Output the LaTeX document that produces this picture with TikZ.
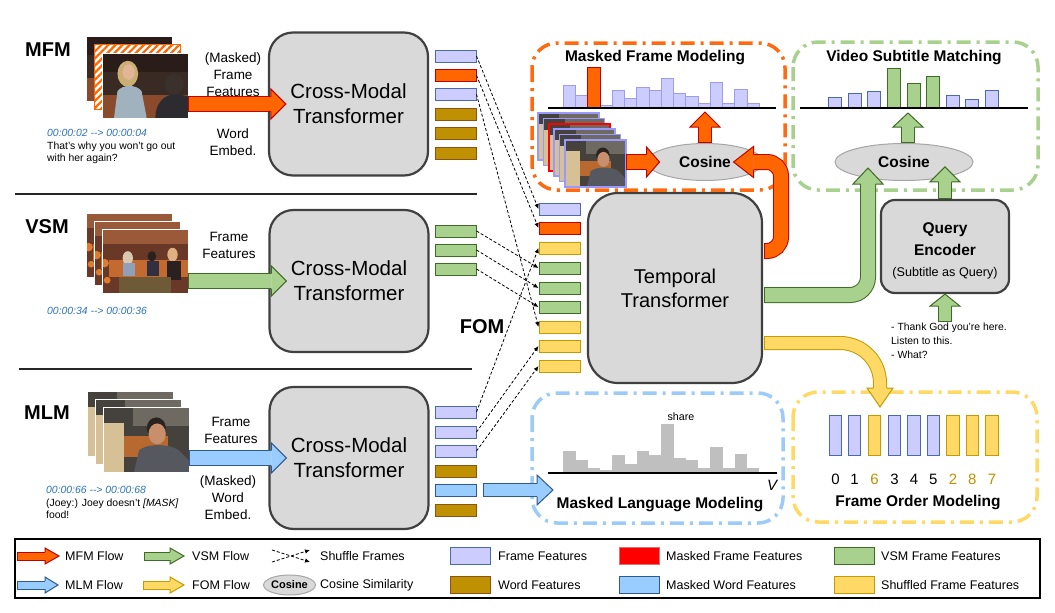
\documentclass[tikz,border=0pt]{standalone}
\usepackage{fontspec}
\setmainfont{Liberation Sans}
\usetikzlibrary{calc,arrows.meta,shapes.geometric,patterns.meta}

\definecolor{boxF}{HTML}{D9D9D9}
\definecolor{boxD}{HTML}{404040}
\definecolor{ellD}{HTML}{A6A6A6}
\definecolor{lavF}{HTML}{CCCCFF}
\definecolor{lavD}{HTML}{4A6AA8}
\definecolor{histD}{HTML}{9C9CF5}
\definecolor{orgF}{HTML}{FF6600}
\definecolor{orgD}{HTML}{C00000}
\definecolor{wrdF}{HTML}{BF9000}
\definecolor{wrdD}{HTML}{8C5218}
\definecolor{grnF}{HTML}{A9D18E}
\definecolor{grnD}{HTML}{3E6B26}
\definecolor{yelF}{HTML}{FFD966}
\definecolor{yelD}{HTML}{C49A00}
\definecolor{bluF}{HTML}{99CCFF}
\definecolor{bluD}{HTML}{2F5A8C}
\definecolor{redF}{HTML}{FF0000}
\definecolor{redD}{HTML}{E07070}
\definecolor{tsblue}{HTML}{2E75B6}
\definecolor{histG}{HTML}{BFBFBF}
\definecolor{numY}{HTML}{BF9000}
\definecolor{frO}{HTML}{FF6A10}
\definecolor{frG}{HTML}{A9D18E}
\definecolor{frB}{HTML}{9CCBFA}
\definecolor{frY}{HTML}{FFD966}
\definecolor{stkD}{HTML}{9999FF}
% photo colours
\definecolor{pA1}{HTML}{3A2A24}
\definecolor{pA2}{HTML}{2A1C18}
\definecolor{pA3}{HTML}{8A4A2C}
\definecolor{pA4}{HTML}{CBAE72}
\definecolor{pA5}{HTML}{E2B596}
\definecolor{pA6}{HTML}{9FB2BE}
\definecolor{pA7}{HTML}{2C2C30}
\definecolor{pA8}{HTML}{3A302C}
\definecolor{pB1}{HTML}{6A3826}
\definecolor{pB2}{HTML}{9A5A3A}
\definecolor{pB3}{HTML}{C26A30}
\definecolor{pB4}{HTML}{D9C7B0}
\definecolor{pB5}{HTML}{8FA0B8}
\definecolor{pB6}{HTML}{303040}
\definecolor{pB7}{HTML}{E0B080}
\definecolor{pB8}{HTML}{2A2020}
\definecolor{pB9}{HTML}{6E5A36}
\definecolor{pBa}{HTML}{E07A30}
\definecolor{pC1}{HTML}{45423E}
\definecolor{pC2}{HTML}{6E6A62}
\definecolor{pC3}{HTML}{B8692F}
\definecolor{pC4}{HTML}{D6C096}
\definecolor{pC5}{HTML}{2A2320}
\definecolor{pC6}{HTML}{C98F6C}
\definecolor{pC7}{HTML}{55585E}

\newcommand\sceneA{%
 \fill[pA1] (0,0) rectangle (100,75);
 \fill[pA2] (0,0) rectangle (100,22);
 \fill[pA3] (0,48) rectangle (100,75);
 \fill[pA4] (30,24) ellipse (12 and 15);
 \fill[pA5] (31,22) ellipse (7 and 9);
 \fill[pA6] (14,75) -- (18,44) .. controls (24,36) and (40,36) .. (46,44) -- (52,75) -- cycle;
 \fill[pA7] (100,75) -- (62,75) .. controls (62,58) and (72,48) .. (86,47) -- (100,50) -- cycle;
 \fill[pA8] (84,36) ellipse (11 and 12);}
\newcommand\sceneB{%
 \fill[pB1] (0,0) rectangle (100,75);
 \fill[pB2] (0,0) rectangle (100,18);
 \fill[pB3] (8,36) rectangle (100,56);
 \fill[pB4] (30,34) ellipse (6 and 8);
 \fill[pB5] (24,40) rectangle (38,55);
 \fill[pB8] (58,32) ellipse (5 and 6);
 \fill[pB6] (52,38) rectangle (66,55);
 \fill[pB7] (82,30) ellipse (6 and 8);
 \fill[pB8] (76,38) rectangle (92,60);
 \fill[pB9] (20,56) rectangle (80,75);
 \fill[pBa] (3,40) circle (5);
 \fill[pBa] (6,60) circle (4);}
\newcommand\sceneC{%
 \fill[pC1] (0,0) rectangle (100,75);
 \fill[pC2] (35,0) rectangle (100,22);
 \fill[pC3] (0,34) rectangle (75,58);
 \fill[pC4] (0,18) rectangle (24,75);
 \fill[pC5] (62,24) ellipse (11 and 12);
 \fill[pC6] (63,31) ellipse (10 and 12);
 \fill[pC7] (36,75) -- (42,50) .. controls (50,42) and (78,42) .. (88,50) -- (100,62) -- (100,75) -- cycle;}

% #1 scene, #2 x, #3 y, #4 w, #5 h, #6 border style
\newcommand\scene[6]{%
 \begin{scope}
  \clip (#2,#3) rectangle ++(#4,#5);
  \begin{scope}[shift={(#2,#3)}, xscale=#4/100, yscale=#5/75]
   \csname scene#1\endcsname
  \end{scope}
 \end{scope}
 \draw[#6] (#2,#3) rectangle ++(#4,#5);}

% block arrow: [opts]{shaft path}{base}{tip}{half shaft}{half head}{colour prefix}
\newcommand\flow[7][]{%
 \draw[#7D, line width={2*#5pt+1pt}, #1] #2;
 \draw[#7F, line width={2*#5pt-1pt}, shorten <=1pt, #1] #2;
 \fill[#7F] ($#3!#6pt!90:#4$) -- #4 -- ($#3!#6pt!-90:#4$) -- cycle;
 \draw[#7D, line width=1pt, line join=miter] ($#3!#5pt!90:#4$) -- ($#3!#6pt!90:#4$) -- #4 -- ($#3!#6pt!-90:#4$) -- ($#3!#5pt!-90:#4$);}

\tikzset{
 gbox/.style={rectangle, draw=boxD, fill=boxF, line width=2.2pt, rounded corners=24pt, inner sep=0pt},
 cmtext/.style={align=center, font=\fontsize{20.5}{25}\selectfont},
 lbl/.style={align=center, inner sep=0pt, font=\fontsize{13.5}{17}\selectfont},
 ttl/.style={inner sep=0pt, font=\bfseries\fontsize{15.5}{18}\selectfont},
 bigl/.style={inner sep=0pt, font=\bfseries\fontsize{20}{24}\selectfont},
 leg/.style={anchor=west, inner sep=0pt, font=\fontsize{12.5}{15}\selectfont},
 smalltxt/.style={align=left, inner sep=0pt, font=\fontsize{10.4}{12.5}\selectfont},
 feat/.style={rectangle, minimum width=41pt, minimum height=12pt, inner sep=0pt, line width=1pt},
 lav/.style={feat, fill=lavF, draw=lavD},
 org/.style={feat, fill=orgF, draw=orgD},
 wrd/.style={feat, fill=wrdF, draw=wrdD},
 grn/.style={feat, fill=grnF, draw=grnD},
 yel/.style={feat, fill=yelF, draw=yelD},
 mwb/.style={feat, fill=bluF, draw=bluD},
 legrect/.style={rectangle, minimum width=40pt, minimum height=17pt, inner sep=0pt, line width=1pt},
 shuf/.style={dash pattern=on 3pt off 2pt, line width=0.8pt, -{Latex[length=5pt,width=4.5pt]}},
 cosell/.style={ellipse, draw=ellD, fill=boxF, line width=1pt, inner sep=0pt, font=\bfseries\fontsize{15.5}{18}\selectfont},
 ddframe/.style={line width=3.5pt, rounded corners=25pt, dash pattern=on 14pt off 6pt on 3pt off 6pt},
 phbox/.style={rectangle, inner sep=0pt},
}

\begin{document}
\begin{tikzpicture}[x=1pt,y=-1pt]
\useasboundingbox (0,0) rectangle (1055,613);
\fill[white] (0,0) rectangle (1055,613);

% ---------- separators and row labels
\draw[line width=2pt, black!85] (15,194) -- (477,194);
\draw[line width=2pt, black!85] (19,369) -- (472,369);
\node[bigl] (lMFM) at (48,50) {MFM};
\node[bigl] (lVSM) at (47,227) {VSM};
\node[bigl] (lMLM) at (47,413) {MLM};

% ---------- photos
\scene{A}{86}{36}{86}{65}{white, line width=0.7pt}
\fill[white] (94,44) rectangle ++(86,65);
\fill[pattern={Lines[angle=45,distance=5pt,line width=2.2pt]}, pattern color=orgF] (94,44) rectangle ++(86,65);
\draw[orgF, line width=0.7pt] (94,44) rectangle ++(86,65);
\scene{A}{102}{53}{86}{65}{white, line width=0.7pt}
\node[phbox, minimum width=86pt, minimum height=65pt] (phA) at (145,85.5) {};

\scene{B}{86}{213}{86}{64}{white, line width=0.7pt}
\scene{B}{94}{221}{86}{64}{white, line width=0.7pt}
\scene{B}{102}{229}{86}{64}{white, line width=0.7pt}
\node[phbox, minimum width=86pt, minimum height=64pt] (phB) at (145,261) {};

\scene{C}{87}{391}{86}{65}{white, line width=0.7pt}
\scene{C}{95}{399}{86}{65}{white, line width=0.7pt}
\scene{C}{103}{407}{86}{65}{white, line width=0.7pt}
\node[phbox, minimum width=86pt, minimum height=65pt] (phC) at (146,439.5) {};

% ---------- subtitles
\node[smalltxt, anchor=north west] (subA) at (47,129.3)
 {{\color{tsblue}\itshape 00:00:02 -{}-> 00:00:04}\\That's why you won't go out\\with her again?};
\node[smalltxt, anchor=west] (subB) at (47,311) {\color{tsblue}\itshape 00:00:34 -{}-> 00:00:36};
\node[smalltxt, anchor=north west] (subC) at (46,486.3)
 {{\color{tsblue}\itshape 00:00:66 -{}-> 00:00:68}\\(Joey:) Joey doesn't \textit{[MASK]}\\food!};

% ---------- input labels
\node[lbl] (inA1) at (233,74.5) {(Masked)\\Frame\\Features};
\node[lbl] (inA2) at (233,142.5) {Word\\Embed.};
\node[lbl] (inB1) at (229,245.5) {Frame\\Features};
\node[lbl] (inC1) at (231,430.5) {Frame\\Features};
\node[lbl] (inC2) at (228,498) {(Masked)\\Word\\Embed.};

% ---------- cross-modal transformers
\node[gbox, cmtext, minimum width=159pt, minimum height=143pt] (cm1) at (348.5,104) {Cross-Modal\\Transformer};
\node[gbox, cmtext, minimum width=159pt, minimum height=142pt] (cm2) at (349,281) {Cross-Modal\\Transformer};
\node[gbox, cmtext, minimum width=159pt, minimum height=142pt] (cm3) at (349,458) {Cross-Modal\\Transformer};

% ---------- input arrows
\coordinate (fAs) at (phA.east |- cm1.west);
\coordinate (fAb) at ($(cm1.west)+(3,0)$);
\coordinate (fAt) at ($(cm1.west)+(18,0)$);
\flow{(fAs) -- (fAb)}{(fAb)}{(fAt)}{7.5}{15}{org}
\coordinate (fBs) at (phB.east |- cm2.west);
\coordinate (fBb) at ($(cm2.west)+(3,0)$);
\coordinate (fBt) at ($(cm2.west)+(18,0)$);
\flow{(fBs) -- (fBb)}{(fBb)}{(fBt)}{7.5}{15}{grn}
\coordinate (fCs) at (phC.east |- cm3.west);
\coordinate (fCb) at ($(cm3.west)+(3,0)$);
\coordinate (fCt) at ($(cm3.west)+(18,0)$);
\flow{(fCs) -- (fCb)}{(fCb)}{(fCt)}{7.5}{15}{blu}

% ---------- feature bars
\node[lav] (a1) at (455.5,56) {};
\node[org] (a2) at (455.5,75.3) {};
\node[lav] (a3) at (455.5,94.3) {};
\node[wrd] (a4) at (455.5,114) {};
\node[wrd] (a5) at (455.5,133.7) {};
\node[wrd] (a6) at (455.5,153) {};
\node[grn] (b1) at (455.5,231) {};
\node[grn] (b2) at (455.5,250) {};
\node[grn] (b3) at (455.5,269) {};
\node[lav] (c1) at (455.5,412) {};
\node[lav] (c2) at (455.5,432) {};
\node[lav] (c3) at (455.5,451) {};
\node[wrd] (c4) at (455.5,471) {};
\node[mwb] (c5) at (455.5,490) {};
\node[wrd] (c6) at (455.5,510) {};
\node[lav] (m1) at (559.5,209) {};
\node[org] (m2) at (559.5,228) {};
\node[yel] (m3) at (559.5,248) {};
\node[grn] (m4) at (559.5,268) {};
\node[grn] (m5) at (559.5,288) {};
\node[grn] (m6) at (559.5,307) {};
\node[yel] (m7) at (559.5,327) {};
\node[yel] (m8) at (559.5,346) {};
\node[yel] (m9) at (559.5,366) {};

\foreach \s/\t in {a1/m1, a2/m2, a3/m7, b1/m4, b2/m5, b3/m6, c1/m3, c2/m8, c3/m9}
 \draw[shuf] (\s.east) -- (\t.west);
\node[bigl] (fom) at (482,327) {FOM};

% ---------- temporal transformer
\node[gbox, cmtext, rounded corners=30pt, font=\fontsize{20}{24}\selectfont, minimum width=174pt, minimum height=190pt] (TT) at (675,288) {Temporal\\Transformer};

% ---------- dash-dot task frames
\draw[ddframe, frO] (532,43) rectangle (785,190);
\draw[ddframe, frG] (793,42) rectangle (1038,190);
\draw[ddframe, frB] (532,393) rectangle (783,523);
\draw[ddframe, frY] (793,392) rectangle (1037,522);

% ---------- Masked Frame Modeling
\node[ttl] (tMFM) at (655,58) {Masked Frame Modeling};
\foreach \h [count=\i from 0] in {22.7,12.7,0,2.7,17.7,9.3,21,17.7,29.3,15,11.7,4.3,25.3,4.3,19,4.3}
 \draw[fill=lavF, draw=histD, line width=0.8pt] ({563.3+\i*12.25},108) rectangle ++(12.25,-\h);
\draw[fill=orgF, draw=orgD, line width=0.8pt] (587.8,108) rectangle ++(12.25,-40.3);
\draw[line width=1.3pt] (548,108) -- (776,108);
\scene{C}{538}{113}{61}{47}{stkD, line width=1.5pt}
\scene{C}{543.4}{118.4}{61}{47}{stkD, line width=1.5pt}
\scene{C}{548.8}{123.8}{61}{47}{red, line width=1.5pt}
\scene{C}{554.2}{129.2}{61}{47}{stkD, line width=1.5pt}
\scene{C}{559.6}{134.6}{61}{47}{stkD, line width=1.5pt}
\scene{C}{565}{140}{61}{47}{stkD, line width=1.5pt}
\node[phbox, minimum width=61pt, minimum height=47pt] (stk) at (595.5,163.5) {};
\node[cosell, minimum width=116pt, minimum height=37pt] (cosA) at (705,162) {Cosine};

% ---------- Video Subtitle Matching
\node[ttl] (tVSM) at (914,58) {Video Subtitle Matching};
\foreach \xx/\h/\c/\d in {828.3/11/lavF/lavD, 848.3/14.3/lavF/lavD, 867.3/16.7/lavF/lavD, 887.7/40/grnF/grnD, 907.3/24.3/grnF/grnD, 926.7/32/grnF/grnD, 946/12.3/lavF/lavD, 965.7/8.7/lavF/lavD, 985/17.7/lavF/lavD}
 \draw[fill=\c, draw=\d, line width=1pt] (\xx,108) rectangle ++(13,-\h);
\draw[line width=1.3pt] (800,108) -- (1028,108);
\node[cosell, minimum width=138pt, minimum height=37pt] (cosB) at (904,162) {Cosine};
\node[gbox, rounded corners=14pt, minimum width=128pt, minimum height=93pt] (QE) at (945,246.5) {};
\node[ttl] (qe1) at (945,230) {Query};
\node[ttl] (qe2) at (945,249.5) {Encoder};
\node[inner sep=0pt, font=\fontsize{12.6}{15}\selectfont] (qe3) at (945,273) {(Subtitle as Query)};
\node[smalltxt, anchor=north west, font=\fontsize{10.4}{14}\selectfont] (subq) at (891,322.3)
 {- Thank God you're here.\\Listen to this.\\- What?};

% ---------- Masked Language Modeling
\foreach \h [count=\i from 0] in {22.3,13.3,5.3,3.3,18.3,9.3,21.7,18.3,49.3,15,12.7,5,26.3,5,19.3,5}
 \fill[histG] ({563.3+\i*12.25},473) rectangle ++(12.25,-\h);
\draw[line width=1.3pt] (548,473) -- (777,473);
\node[inner sep=0pt, font=\fontsize{10.7}{13}\selectfont] (share) at (681,417) {share};
\node[inner sep=0pt, font=\itshape\fontsize{15}{18}\selectfont] (vocab) at (772,485) {V};
\node[ttl] (tMLM) at (660,505) {Masked Language Modeling};

% ---------- Frame Order Modeling
\foreach \xx/\c/\d/\n/\nc in {829.3/lavF/lavD/0/black, 848.3/lavF/lavD/1/black, 868.3/yelF/yelD/6/numY, 888.3/lavF/lavD/3/black, 907.7/lavF/lavD/4/black, 927/lavF/lavD/5/black, 946.7/yelF/yelD/2/numY, 966/yelF/yelD/8/numY, 985.7/yelF/yelD/7/numY}
{
 \draw[fill=\c, draw=\d, line width=1pt] (\xx,415) rectangle ++(12.5,40);
 \node[inner sep=0pt, text=\nc, font=\fontsize{15}{18}\selectfont] (num\n) at ({\xx+6.25},479) {\n};
}
\node[ttl] (tFOM) at (918,503) {Frame Order Modeling};

% ---------- flows out of the temporal transformer
\coordinate (oS) at ($(TT.east)+(1,-37)$);
\coordinate (oK) at ($(cosA.east)+(17.5,0)$);
\coordinate (oB) at ($(cosA.east)+(-10,0)$);
\coordinate (oT) at ($(cosA.east)+(-30,0)$);
\flow[rounded corners=14pt]{(oS) -| (oK) -- (oB)}{(oB)}{(oT)}{7.5}{15.5}{org}

\coordinate (gS) at ($(TT.east)+(1,7)$);
\coordinate (gB) at (868,184);
\coordinate (gT) at (868,168);
\flow[rounded corners=18pt]{(gS) -| (gB)}{(gB)}{(gT)}{7.5}{15}{grn}

\coordinate (yS) at ($(TT.east)+(1,55)$);
\coordinate (yB) at (880,388);
\coordinate (yT) at (880,407);
\flow[rounded corners=40pt]{(yS) -| (yB)}{(yB)}{(yT)}{6.5}{13}{yel}

% ---------- small flows
\coordinate (sAs) at (stk.east |- cosA.west);
\coordinate (sAb) at ($(cosA.west)+(0,0)$);
\coordinate (sAt) at ($(cosA.west)+(13,0)$);
\flow{(sAs) -- (sAb)}{(sAb)}{(sAt)}{7.5}{15}{org}

\coordinate (uAb) at ($(cosA.north)+(0,-16)$);
\coordinate (uAt) at ($(cosA.north)+(0,-31)$);
\flow{(cosA.north) -- (uAb)}{(uAb)}{(uAt)}{6.5}{15}{org}

\coordinate (uBs) at ($(cosB.north)+(4,0)$);
\coordinate (uBb) at ($(cosB.north)+(4,-16)$);
\coordinate (uBt) at ($(cosB.north)+(4,-30)$);
\flow{(uBs) -- (uBb)}{(uBb)}{(uBt)}{6.5}{15}{grn}

\coordinate (qBb) at ($(QE.north)+(0,-17)$);
\coordinate (qBt) at ($(QE.north)+(0,-32)$);
\flow{(QE.north) -- (qBb)}{(qBb)}{(qBt)}{6.5}{15}{grn}

\coordinate (qSs) at (QE.south |- subq.north);
\coordinate (qSb) at ($(QE.south)+(0,12)$);
\flow{(qSs) -- (qSb)}{(qSb)}{(QE.south)}{6.5}{15}{grn}

\coordinate (mwS) at ($(c5.east)+(6,0)$);
\coordinate (mwB) at (537,490);
\coordinate (mwT) at (553,490);
\flow{(mwS) -- (mwB)}{(mwB)}{(mwT)}{6.5}{15}{blu}

% ---------- legend
\draw[line width=1.5pt] (15,539) rectangle (1040,598);
\coordinate (L1s) at (17,556); \coordinate (L1b) at (45,556); \coordinate (L1t) at (59,556);
\flow{(L1s) -- (L1b)}{(L1b)}{(L1t)}{4}{8}{org}
\node[leg] (L1) at (65,556) {MFM Flow};
\coordinate (L2s) at (144,556); \coordinate (L2b) at (170,556); \coordinate (L2t) at (184,556);
\flow{(L2s) -- (L2b)}{(L2b)}{(L2t)}{4}{8}{grn}
\node[leg] (L2) at (192,556) {VSM Flow};
\coordinate (L3s) at (17,585); \coordinate (L3b) at (45,585); \coordinate (L3t) at (58,585);
\flow{(L3s) -- (L3b)}{(L3b)}{(L3t)}{4}{8}{blu}
\node[leg] (L3) at (65,585) {MLM Flow};
\coordinate (L4s) at (143,585); \coordinate (L4b) at (170,585); \coordinate (L4t) at (184,585);
\flow{(L4s) -- (L4b)}{(L4b)}{(L4t)}{4}{8}{yel}
\node[leg] (L4) at (192,585) {FOM Flow};

\coordinate (sh1) at (272,550); \coordinate (sh2) at (310,562);
\coordinate (sh3) at (272,562); \coordinate (sh4) at (310,550);
\draw[shuf] (sh1) -- (sh2);
\draw[shuf] (sh3) -- (sh4);
\node[leg] (L5) at (320,556) {Shuffle Frames};
\node[cosell, minimum width=49pt, minimum height=20pt, font=\bfseries\fontsize{11}{13}\selectfont] (Lcos) at (289.5,585) {Cosine};
\node[leg] (L6) at (320,585) {Cosine Similarity};

\node[legrect, fill=lavF, draw=lavD] (R1) at (470.5,556) {};
\node[leg] (L7) at (498,556) {Frame Features};
\node[legrect, fill=redF, draw=redD] (R2) at (639.5,556) {};
\node[leg] (L8) at (666,556) {Masked Frame Features};
\node[legrect, fill=grnF, draw=grnD] (R3) at (854.5,556) {};
\node[leg] (L9) at (881,556) {VSM Frame Features};
\node[legrect, fill=wrdF, draw=wrdD] (R4) at (470.5,585) {};
\node[leg] (L10) at (498,585) {Word Features};
\node[legrect, fill=bluF, draw=bluD] (R5) at (639.5,585) {};
\node[leg] (L11) at (666,585) {Masked Word Features};
\node[legrect, fill=yelF, draw=yelD] (R6) at (854.5,585) {};
\node[leg] (L12) at (881,585) {Shuffled Frame Features};
\end{tikzpicture}
\end{document}
